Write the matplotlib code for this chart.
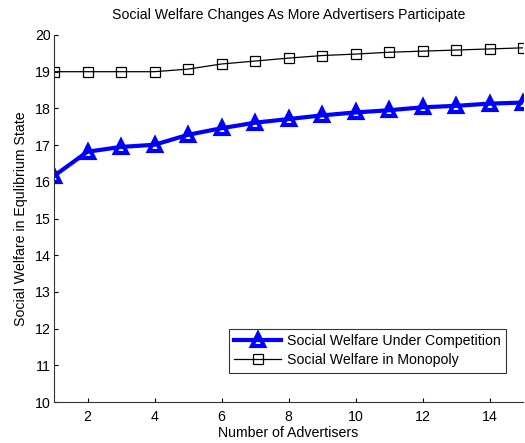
import matplotlib
matplotlib.use("Agg")
import matplotlib.pyplot as plt

advertisers = list(range(1, 16))
competition = [16.16, 16.82, 16.95, 17.01, 17.28, 17.46, 17.61, 17.71, 17.81, 17.89, 17.95, 18.03, 18.07, 18.13, 18.16]
monopoly = [19.0, 19.0, 19.0, 19.0, 19.07, 19.21, 19.29, 19.37, 19.44, 19.48, 19.53, 19.56, 19.59, 19.62, 19.65]
xticks = [2, 4, 6, 8, 10, 12, 14]
yticks = list(range(10, 21))

FS = 10.2
plt.rcParams['font.family'] = ['Liberation Sans', 'DejaVu Sans']
fig = plt.figure(figsize=(5.25, 4.43), dpi=100)
ax = fig.add_axes([54/525, 1-402/443, 469/525, (402-35)/443])

ax.plot(advertisers, competition, color='blue', lw=3, marker='^', ms=9,
        mfc='none', mec='blue', mew=3, label='Social Welfare Under Competition')
ax.plot(advertisers, monopoly, color='black', lw=0.9, marker='s', ms=6.5,
        mfc='none', mec='black', mew=0.9, label='Social Welfare in Monopoly')

ax.set_xlim(1, 15)
ax.set_ylim(10, 20)
ax.set_xticks(xticks)
ax.set_yticks(yticks)
ax.tick_params(direction='in', length=3, labelsize=FS, width=0.8)
ax.tick_params(axis='x', pad=6)
ax.tick_params(axis='y', pad=2.5)
for s in ['top', 'right']:
    ax.spines[s].set_visible(False)
for s in ['left', 'bottom']:
    ax.spines[s].set_linewidth(0.8)
    ax.spines[s].set_color('#333333')

ax.set_title('Social Welfare Changes As More Advertisers Participate', fontsize=FS, pad=11.5)
ax.set_xlabel('Number of Advertisers', fontsize=FS, labelpad=1.5)
ax.set_ylabel('Social Welfare in Equlibrium State', fontsize=FS, labelpad=5)

leg = ax.legend(loc='lower right', bbox_to_anchor=(506/525, 1-373/443), bbox_transform=fig.transFigure,
                fontsize=FS, frameon=True, fancybox=False, edgecolor='black',
                handlelength=3.3, borderpad=0.4, labelspacing=0.35, handletextpad=0.4, borderaxespad=0)
leg.get_frame().set_linewidth(0.8)

fig.savefig('out.png', dpi=100)
